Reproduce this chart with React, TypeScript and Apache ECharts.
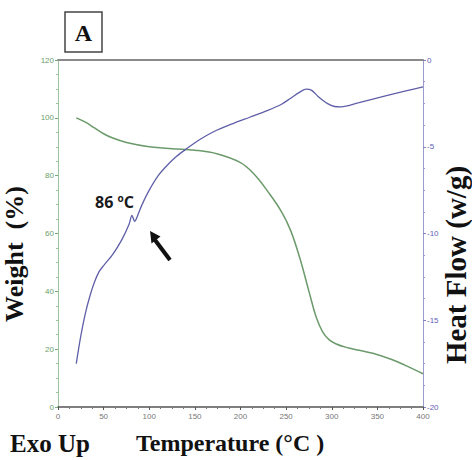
import React, { useEffect, useRef } from "react";
import * as echarts from "echarts";

// Weight (%) – TGA curve (green, left axis)
const weightTemps = [20, 30, 40, 50, 60, 75, 100, 125, 150, 175, 200, 215, 230, 245, 255, 265, 275, 283, 290, 297, 305, 315, 330, 345, 365, 380, 400];
const weightValues = [100, 98.5, 96.5, 94.5, 93, 91.5, 90, 89.3, 88.8, 87.5, 84.5, 80.5, 74.5, 67.5, 61, 51.5, 40, 31, 26, 23.3, 21.8, 20.7, 19.6, 18.6, 16.5, 14.5, 11.5];

// Heat Flow (w/g) – DSC curve (blue, right axis)
const heatTemps = [20, 25, 30, 35, 40, 45, 50, 60, 70, 78, 81, 84, 87, 92, 100, 110, 120, 130, 140, 155, 170, 190, 210, 230, 245, 255, 265, 272, 278, 285, 295, 303, 310, 330, 360, 380, 400];
const heatValues = [-17.5, -15.9, -14.6, -13.6, -12.8, -12.2, -11.85, -11.2, -10.35, -9.45, -8.95, -9.3, -9.0, -8.35, -7.5, -6.65, -6.05, -5.55, -5.15, -4.6, -4.15, -3.7, -3.3, -2.9, -2.55, -2.2, -1.85, -1.68, -1.75, -2.1, -2.5, -2.68, -2.7, -2.45, -2.05, -1.8, -1.55];

const xTickInterval = 50;
const weightTickInterval = 20;
const heatTickInterval = 5;

const GREEN_LINE = "#6b9a6b";
const BLUE_LINE = "#5f5fa8";

export default function App() {
  const ref = useRef<HTMLDivElement>(null);

  useEffect(() => {
    if (!ref.current) return;
    const chart = echarts.init(ref.current, null, { renderer: "svg" });
    const weightData = weightTemps.map((t, i) => [t, weightValues[i]]);
    const heatData = heatTemps.map((t, i) => [t, heatValues[i]]);

    chart.setOption({
      animation: false,
      backgroundColor: "#ffffff",
      grid: { left: 58, right: 49, top: 60, bottom: 53, containLabel: false, outerBoundsMode: "none" },
      xAxis: [
        {
          type: "value",
          min: 0,
          max: 400,
          interval: xTickInterval,
          position: "bottom",
          axisLine: { show: true, onZero: false, lineStyle: { color: "#555555", width: 1.5 } },
          axisTick: { show: true, length: 3, lineStyle: { color: "#555555" } },
          minorTick: { show: true, splitNumber: 4, length: 2, lineStyle: { color: "#777777" } },
          axisLabel: { color: "#777777", fontSize: 8, margin: 5, fontFamily: "Liberation Sans" },
          splitLine: { show: false },
        },
        {
          type: "value",
          min: 0,
          max: 400,
          position: "top",
          axisLine: { show: true, onZero: false, lineStyle: { color: "#8a8a8a", width: 2 } },
          axisTick: { show: false },
          axisLabel: { show: false },
          splitLine: { show: false },
        },
      ],
      yAxis: [
        {
          type: "value",
          min: 0,
          max: 120,
          interval: weightTickInterval,
          position: "left",
          axisLine: { show: true, onZero: false, lineStyle: { color: "#9cc49c", width: 1 } },
          axisTick: { show: true, length: 3, lineStyle: { color: "#7aaa7a" } },
          minorTick: { show: true, splitNumber: 4, length: 2, lineStyle: { color: "#9cc49c" } },
          axisLabel: { color: "#6aa06a", fontSize: 8, margin: 4, fontFamily: "Liberation Sans" },
          splitLine: { show: false },
        },
        {
          type: "value",
          min: -20,
          max: 0,
          interval: heatTickInterval,
          position: "right",
          axisLine: { show: true, onZero: false, lineStyle: { color: "#9a9acc", width: 1 } },
          axisTick: { show: true, length: 3, lineStyle: { color: "#8080c0" } },
          minorTick: { show: true, splitNumber: 4, length: 2, lineStyle: { color: "#9a9acc" } },
          axisLabel: { color: "#6060b8", fontSize: 8, margin: 4, fontFamily: "Liberation Sans" },
          splitLine: { show: false },
        },
      ],
      series: [
        {
          name: "Weight",
          type: "line",
          xAxisIndex: 0,
          yAxisIndex: 0,
          data: weightData,
          smooth: 0.4,
          showSymbol: false,
          lineStyle: { color: GREEN_LINE, width: 1.5 },
        },
        {
          name: "Heat Flow",
          type: "line",
          xAxisIndex: 0,
          yAxisIndex: 1,
          data: heatData,
          smooth: 0.3,
          showSymbol: false,
          lineStyle: { color: BLUE_LINE, width: 1.3 },
        },
      ],
      graphic: [
        {
          type: "rect",
          shape: { x: 65, y: 12, width: 37, height: 40 },
          style: { fill: "#ffffff", stroke: "#444444", lineWidth: 1.5 },
        },
        {
          type: "text",
          x: 83.5,
          y: 33,
          style: {
            text: "A",
            font: "bold 24px 'Liberation Serif', serif",
            fill: "#111111",
            textAlign: "center",
            textVerticalAlign: "middle",
          },
        },
        {
          type: "text",
          x: 14,
          y: 254,
          rotation: Math.PI / 2,
          style: {
            text: "Weight  (%)",
            font: "bold 26px 'Liberation Serif', serif",
            fill: "#111111",
            textAlign: "center",
            textVerticalAlign: "middle",
          },
        },
        {
          type: "text",
          x: 456,
          y: 265,
          rotation: Math.PI / 2,
          style: {
            text: "Heat Flow (w/g)",
            font: "bold 29px 'Liberation Serif', serif",
            fill: "#111111",
            textAlign: "center",
            textVerticalAlign: "middle",
          },
        },
        {
          type: "text",
          x: 10,
          y: 443,
          style: {
            text: "Exo Up",
            font: "bold 25px 'Liberation Serif', serif",
            fill: "#111111",
            textAlign: "left",
            textVerticalAlign: "middle",
          },
        },
        {
          type: "text",
          x: 136,
          y: 443,
          style: {
            text: "Temperature (°C )",
            font: "bold 24px 'Liberation Serif', serif",
            fill: "#111111",
            textAlign: "left",
            textVerticalAlign: "middle",
          },
        },
        {
          type: "text",
          x: 95,
          y: 202,
          style: {
            text: "{a|86 }{s|o}{a|C}",
            textAlign: "left",
            textVerticalAlign: "middle",
            rich: {
              a: { fontFamily: "'Open Sans', sans-serif", fontWeight: "bold", fontSize: 16, fill: "#1a1a1a", color: "#1a1a1a" },
              s: { fontFamily: "'Open Sans', sans-serif", fontWeight: "bold", fontSize: 10, fill: "#1a1a1a", color: "#1a1a1a", verticalAlign: "top", padding: [0, 0, 8, 0] },
            },
          },
        },
        {
          type: "line",
          shape: { x1: 170, y1: 260, x2: 155, y2: 240 },
          style: { stroke: "#111111", lineWidth: 4 },
        },
        {
          type: "polygon",
          shape: { points: [[150, 231], [160.5, 236.5], [151.5, 243.5]] },
          style: { fill: "#111111" },
        },
      ],
    });
    return () => chart.dispose();
  }, []);

  return <div ref={ref} style={{ position: "fixed", left: 0, top: 0, width: 472, height: 460 }} />;
}
